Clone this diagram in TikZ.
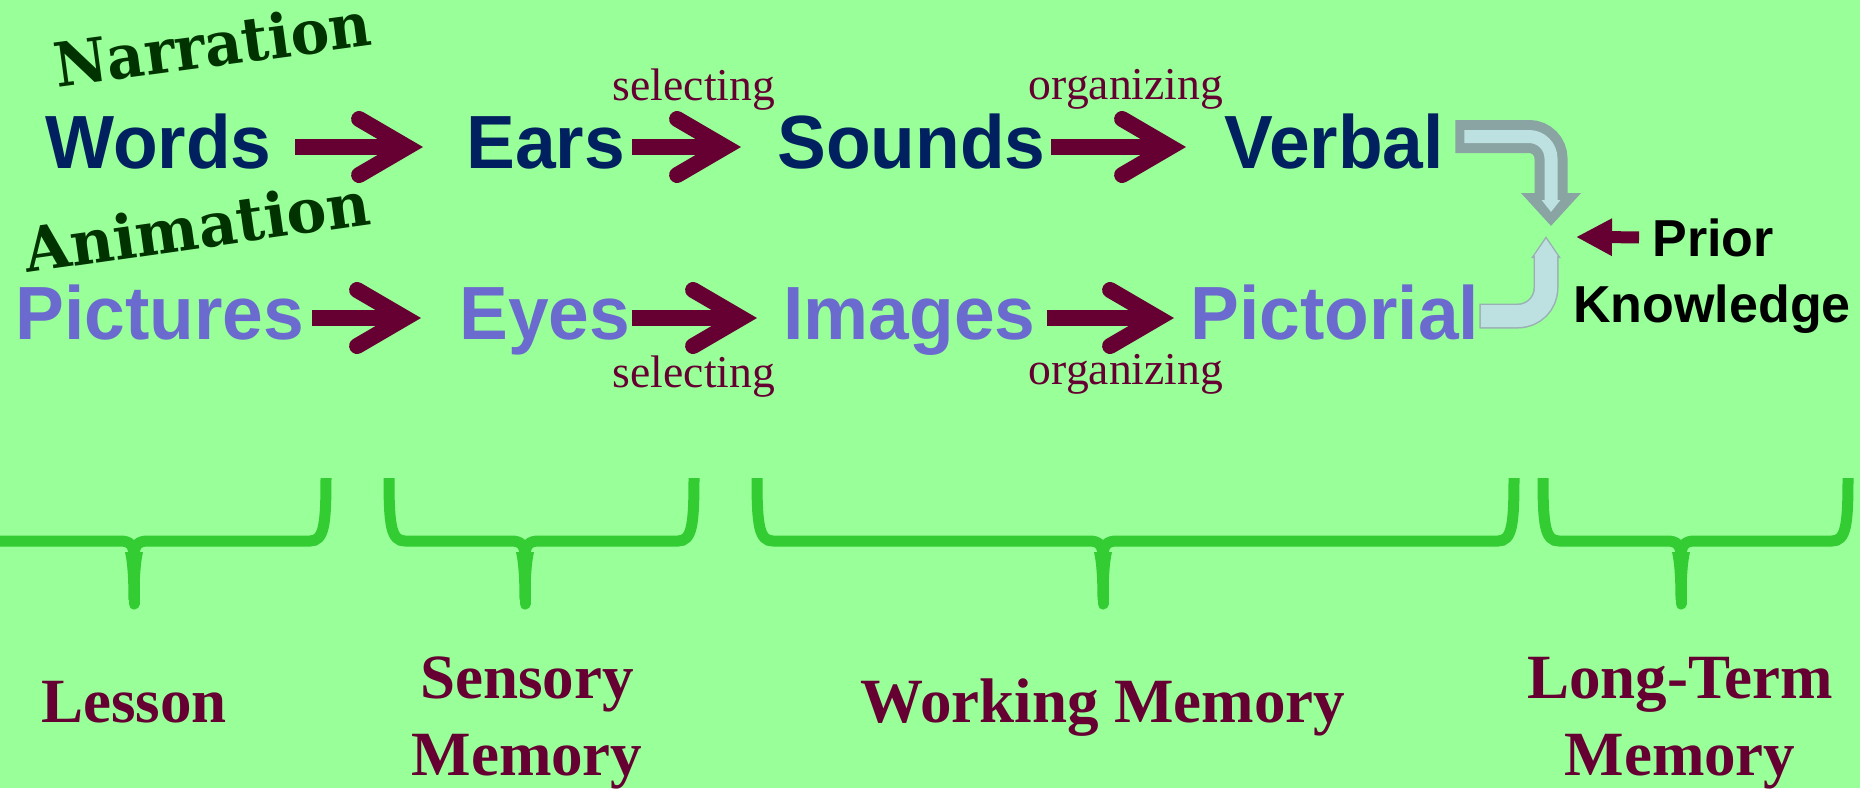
\documentclass[tikz,border=0pt]{standalone}
\usepackage{fontspec}
\setmainfont{Liberation Serif}
\newfontfamily\headsans{Liberation Sans}[FakeStretch=0.97]
\newfontfamily\plainsans{Liberation Sans}
\newfontfamily\slab{DejaVu Serif}[FakeStretch=0.95]
\newfontfamily\slabwide{DejaVu Serif}[FakeStretch=0.98]
\usetikzlibrary{arrows.meta}

\definecolor{bg}{HTML}{99FF99}
\definecolor{wine}{HTML}{660033}
\definecolor{navy}{HTML}{002060}
\definecolor{lilac}{HTML}{6B6BCF}
\definecolor{forest}{HTML}{003300}
\definecolor{leaf}{HTML}{33CC33}
\definecolor{pipegray}{HTML}{8AA3A3}
\definecolor{pipefill}{HTML}{BDE0E0}
\definecolor{pipeedge}{HTML}{9AB0B4}

\begin{document}
\begin{tikzpicture}[x=0.5pt, y=-0.5pt,
  stage/.style={font=\headsans\bfseries\fontsize{37.7}{40}\selectfont,
    inner sep=0pt, anchor=base west, text height=24pt, text depth=3pt},
  verbalword/.style={stage, text=navy},
  visualword/.style={stage, text=lilac},
  process/.style={font=\fontsize{22.8}{24}\selectfont, text=wine,
    inner sep=0pt, anchor=base},
  channel/.style={text=forest, inner sep=0pt, anchor=base west},
  store/.style={font=\bfseries\fontsize{31.5}{38.5}\selectfont, text=wine,
    inner sep=0pt, anchor=base, align=center},
  priorword/.style={font=\plainsans\bfseries\fontsize{26}{28}\selectfont,
    inner sep=0pt, anchor=base west},
  flow/.style={draw=wine, line width=8pt,
    -{Straight Barb[length=24pt, width=28pt, line cap=round, line join=miter]}},
  pipe outer/.style={draw=pipegray, line width=16.5pt, rounded corners=11pt,
    -{Triangle[length=16.5pt, width=29pt]}},
  pipe inner/.style={draw=pipefill, line width=6.5pt, rounded corners=11pt,
    -{Triangle[length=6pt, width=9pt]}},
  tube outer/.style={draw=pipeedge, line width=12.5pt, rounded corners=14pt,
    -{Triangle[length=11pt, width=14pt]}},
  tube inner/.style={draw=pipefill, line width=11pt, rounded corners=14pt,
    -{Triangle[length=8.5pt, width=11pt]}},
  bracket/.style={draw=leaf, line width=5.5pt},
]
\fill[bg] (0,0) rectangle (1860,788);
\useasboundingbox (0,0) rectangle (1860,788);

% channel captions
\node[channel, font=\slab\bfseries\fontsize{30.5}{32}\selectfont, rotate=7.7]
  (narration) at (57,88) {Narration};
\node[channel, font=\slabwide\bfseries\fontsize{30.5}{32}\selectfont, rotate=8.1]
  (animation) at (27,273) {Animation};

% verbal channel
\node[verbalword] (words)  at (45,168)   {Words};
\node[verbalword] (ears)   at (466,168)  {Ears};
\node[verbalword] (sounds) at (777,168)  {Sounds};
\node[verbalword] (verbal) at (1224,168) {Verbal};

% pictorial channel
\node[visualword] (pictures)  at (15,339)   {Pictures};
\node[visualword] (eyes)      at (459,339)  {Eyes};
\node[visualword] (images)    at (783,339)  {Images};
\node[visualword] (pictorial) at (1190,339) {Pictorial};

% process labels
\node[process] (sel1) at (694,100)  {selecting};
\node[process] (org1) at (1126,99)  {organizing};
\node[process] (sel2) at (694,387)  {selecting};
\node[process] (org2) at (1126,384) {organizing};

% prior knowledge
\node[priorword] (prior)     at (1652,256) {Prior};
\node[priorword] (knowledge) at (1573,322) {Knowledge};

% arrow ends at the integration point
\coordinate (vtip) at (1551,226);
\coordinate (ptip) at (1546,236);
\coordinate (ktip) at (1576,237);

% processing arrows
\draw[flow, shorten <=11.5pt, shorten >=21.5pt] (words) -- (ears);
\draw[flow, shorten <=3.5pt,  shorten >=18pt]   (ears) -- (sounds);
\draw[flow, shorten <=2.5pt,  shorten >=19pt]   (sounds) -- (verbal);
\draw[flow, shorten <=4pt,    shorten >=19pt]   (pictures) -- (eyes);
\draw[flow, shorten <=0.5pt,  shorten >=13pt]   (eyes) -- (images);
\draw[flow, shorten <=5.5pt,  shorten >=8pt]    (images) -- (pictorial);

% integration arrows
\draw[pipe outer, shorten <=5.5pt] ([yshift=5.25pt]verbal.east) -| (vtip);
\draw[pipe inner, shorten <=10pt, shorten >=7pt] ([yshift=5.25pt]verbal.east) -| (vtip);
\draw[tube outer] ([yshift=1pt]pictorial.east) -| (ptip);
\draw[tube inner, shorten <=0.75pt, shorten >=1.35pt] ([yshift=1pt]pictorial.east) -| (ptip);

% prior knowledge arrow
\draw[draw=wine, line width=6pt, -{Triangle[length=18pt, width=17.5pt]},
  shorten <=6.5pt] (prior.west) -- (ktip);

% memory brackets
\foreach \l/\t/\r in {-20/134/326, 389/525/694, 757/1103/1514, 1543/1681/1848}{
  \draw[bracket] (\l,478) .. controls (\l,525) and (\l+2,541) .. (\l+16,541)
    -- (\t-14,541) .. controls (\t-4,541) and (\t,545) .. (\t,557);
  \draw[bracket] (\r,478) .. controls (\r,525) and (\r-2,541) .. (\r-16,541)
    -- (\t+14,541) .. controls (\t+4,541) and (\t,545) .. (\t,557);
  \draw[bracket, line cap=round] (\t,555) -- (\t,604);
  % tapered stem below the point
  \fill[leaf] (\t-9,552) .. controls (\t-6,565) and (\t-5.5,585) .. (\t-5.5,600)
    -- (\t+5.5,600) .. controls (\t+5.5,585) and (\t+6,565) .. (\t+9,552) -- cycle;
}

% memory stores (a two-line node sits on the baseline of its last line)
\node[store] (lesson)   at (134,722)  {Lesson};
\node[store] (sensory)  at (527,775)  {Sensory\\Memory};
\node[store] (working)  at (1103,722) {Working Memory};
\node[store] (longterm) at (1680,775) {Long-Term\\Memory};
\end{tikzpicture}
\end{document}
